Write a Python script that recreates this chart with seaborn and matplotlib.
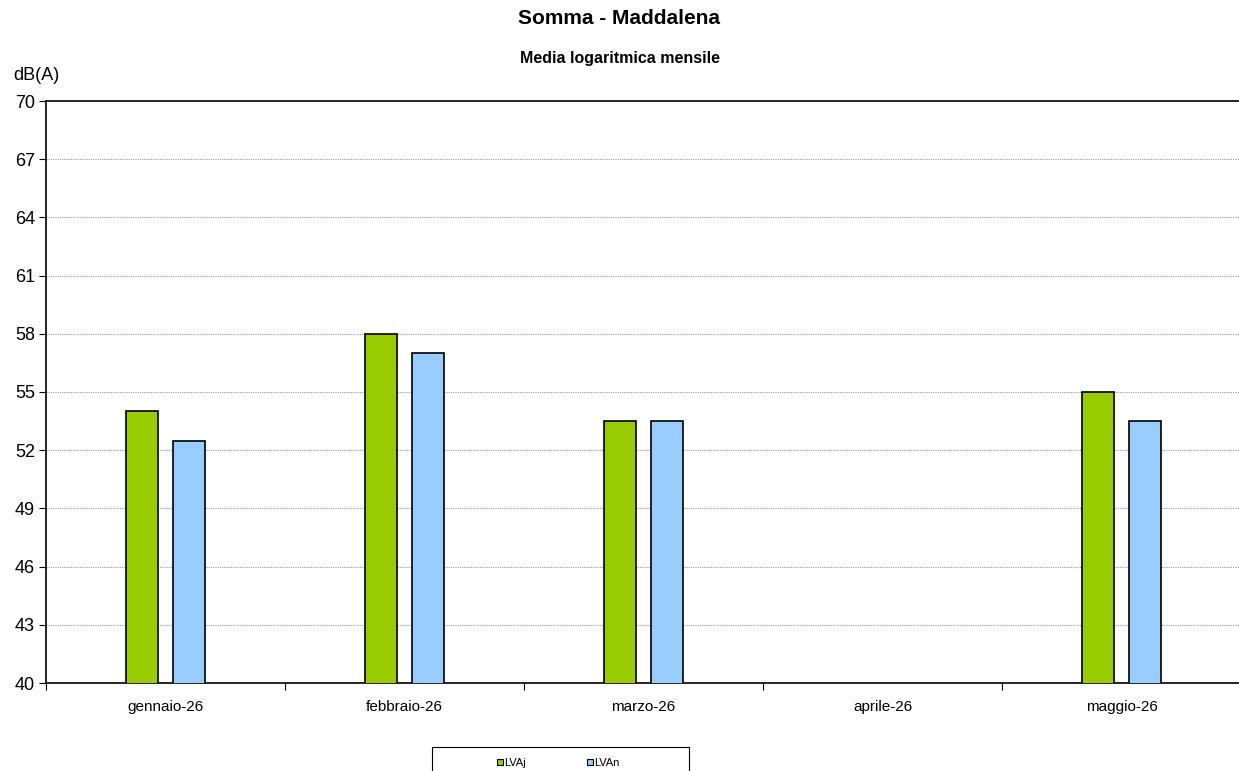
import matplotlib
matplotlib.use("Agg")
import matplotlib.pyplot as plt
import seaborn as sns
import pandas as pd
from matplotlib.patches import Patch, Rectangle
from matplotlib.ticker import FixedLocator

months = ["gennaio-26", "febbraio-26", "marzo-26", "aprile-26", "maggio-26"]
lvaj = [54.0, 58.0, 53.5, None, 55.0]
lvan = [52.5, 57.0, 53.5, None, 53.5]
series = ["LVAj", "LVAn"]
colors = ["#99CC00", "#99CCFF"]
yticks = [40, 43, 46, 49, 52, 55, 58, 61, 64, 67, 70]

rows = []
for m, a, b in zip(months, lvaj, lvan):
    rows.append({"mese": m, "serie": "LVAj", "val": a})
    rows.append({"mese": m, "serie": "LVAn", "val": b})
df = pd.DataFrame(rows)

sns.set_style("white")
plt.rcParams['font.family'] = ['Liberation Sans', 'DejaVu Sans']
plt.rcParams['text.color'] = 'black'
plt.rcParams['xtick.color'] = 'black'
plt.rcParams['ytick.color'] = 'black'
plt.rcParams['xtick.bottom'] = True
plt.rcParams['ytick.left'] = True

fig = plt.figure(figsize=(12.39, 7.71), dpi=100)
ax = fig.add_axes([46/1239, 1-683/771, 1195/1239, 582/771])

sns.barplot(data=df, x="mese", y="val", hue="serie", order=months,
            hue_order=series, palette=colors, saturation=1, width=0.4, gap=0.333,
            edgecolor="black", linewidth=1.2, ax=ax, legend=False, zorder=3)

ax.set_ylim(40, 70)
ax.set_xlim(-0.5, len(months) - 0.5)
ax.set_yticks(yticks)
ax.set_yticklabels([str(t) for t in yticks], fontsize=13)
ax.set_xticks(range(len(months)))
ax.set_xticklabels(months, fontsize=11)
ax.tick_params(axis="x", which="major", length=0, pad=12, labelcolor="black")
ax.xaxis.set_minor_locator(FixedLocator([i + 0.5 for i in range(-1, len(months))]))
ax.tick_params(axis="x", which="minor", bottom=True, length=5, width=0.8,
               color="black", direction="out")
ax.tick_params(axis="y", length=5, width=0.8, color="black", direction="out",
               left=True, pad=3, labelcolor="black")
ax.set_xlabel("")
ax.set_ylabel("")

for t in yticks[1:-1]:
    ax.axhline(t, color="#9a9a9a", linestyle=(0, (1, 1)), linewidth=0.8, zorder=0)

for s in ["left", "bottom", "top", "right"]:
    ax.spines[s].set_color("black")
    ax.spines[s].set_linewidth(1.2)
    ax.spines[s].set_visible(True)

fig.text(0.5, 1-19/771, "Somma - Maddalena", ha="center", va="center",
         fontsize=15, fontweight="bold", color="black")
fig.text(0.5, 1-58/771, "Media logaritmica mensile", ha="center", va="center",
         fontsize=11.5, fontweight="bold", color="black")
fig.text(36/1239, 1-76/771, "dB(A)", ha="center", va="center", fontsize=13,
         color="black")

# legend frame box
fig.patches.append(Rectangle((432/1239, -0.02), 257/1239, 0.02 + (771-747)/771,
                             transform=fig.transFigure, fill=False,
                             edgecolor="black", linewidth=0.8))
handles = [Patch(facecolor=c, edgecolor="black", linewidth=0.8, label=l)
           for c, l in zip(colors, series)]
leg = fig.legend(handles=handles, loc="center", ncol=2,
                 bbox_to_anchor=(558/1239, 1-763/771),
                 fontsize=8, frameon=False,
                 handlelength=0.55, handleheight=0.55, handletextpad=0.1,
                 columnspacing=5.5, borderpad=0, borderaxespad=0)

fig.savefig("out.png", dpi=100)
